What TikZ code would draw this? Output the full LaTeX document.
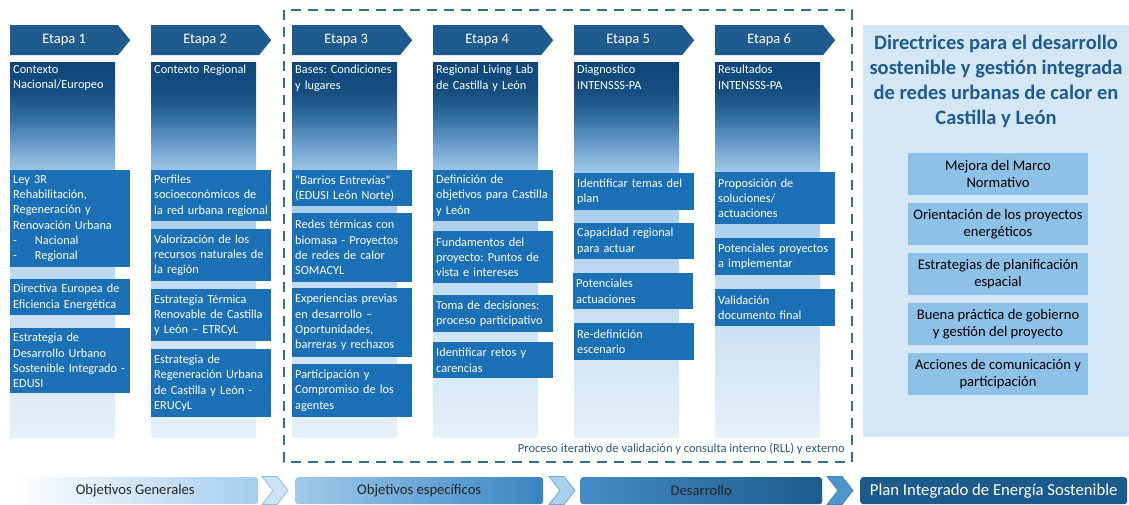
\documentclass[tikz,border=0pt]{standalone}
\usepackage{fontspec}
\setmainfont{Carlito}
\usetikzlibrary{shapes.symbols,positioning}
\hyphenpenalty=10000
\exhyphenpenalty=10000
\frenchspacing

\definecolor{etapablue}{HTML}{1F5B8E}
\definecolor{itemblue}{HTML}{1C70B5}
\definecolor{panelblue}{HTML}{D4E7F6}
\definecolor{goalblue}{HTML}{8DC1E7}
\definecolor{titleblue}{HTML}{1F5B8E}
\definecolor{frameblue}{HTML}{336E9A}
\definecolor{procblue}{HTML}{2B5A80}
\definecolor{planblue}{HTML}{1D5B8C}
\definecolor{fadeA}{HTML}{E6F1FA}
\definecolor{fadeB}{HTML}{C2DCF1}
\definecolor{fadeC}{HTML}{9DC6E8}
\definecolor{fadeD}{HTML}{6A9ECB}
\definecolor{fadeE}{HTML}{2F6A9C}
\definecolor{fadeF}{HTML}{174F81}
\definecolor{fadeG}{HTML}{0E467A}
\pgfdeclareverticalshading{colfade}{100bp}{color(0bp)=(fadeA); color(25bp)=(fadeA);
  color(45bp)=(fadeB); color(60.6bp)=(fadeC); color(64bp)=(fadeD); color(68bp)=(fadeE);
  color(71bp)=(fadeF); color(75bp)=(fadeG); color(100bp)=(fadeG)}

\tikzset{
  etapa/.style={signal, signal to=east, signal pointer angle=102, fill=etapablue, text=white,
    minimum width=120pt, minimum height=30pt, inner sep=0pt, anchor=north west,
    font=\fontsize{14.5}{17}\selectfont},
  colbody/.style={shading=colfade, minimum width=105pt, minimum height=375pt, inner sep=0pt, anchor=north west},
  head/.style={anchor=north west, text width=116pt, align=left, inner sep=3pt, text=white,
    font=\fontsize{12.3}{15.3}\selectfont},
  item/.style={fill=itemblue, text=white, anchor=north west, text width=114pt, inner xsep=3pt,
    inner ysep=0pt, align=left, font=\fontsize{12.3}{15.3}\selectfont},
  goal/.style={fill=goalblue, minimum width=180pt, minimum height=42pt, inner sep=0pt, align=center,
    font=\fontsize{14.6}{16.7}\selectfont},
  bar/.style={anchor=north west, minimum height=27pt, inner sep=0pt, rounded corners=3pt,
    text=black!85, font=\fontsize{14.6}{17}\selectfont},
  chev/.style={signal, signal to=east, signal from=west, signal pointer angle=104,
    minimum width=26pt, minimum height=28pt, inner sep=0pt, line width=0.8pt}
}

\begin{document}
\begin{tikzpicture}[x=1pt,y=-1pt]
  \useasboundingbox (0,0) rectangle (1129,505);

  \node[etapa] (s1) at (10,25) {Etapa 1};
  \node[etapa] (s2) at (151,25) {Etapa 2};
  \node[etapa] (s3) at (292,25) {Etapa 3};
  \node[etapa] (s4) at (433,25) {Etapa 4};
  \node[etapa] (s5) at (574,25) {Etapa 5};
  \node[etapa] (s6) at (715,25) {Etapa 6};

  \node[colbody] (c1) at (10,62) {};
  \node[colbody] (c2) at (151,62) {};
  \node[colbody] (c3) at (292,62) {};
  \node[colbody] (c4) at (433,62) {};
  \node[colbody] (c5) at (574,62) {};
  \node[colbody] (c6) at (715,62) {};

  \node[head] (h1) at (c1.north west) {Contexto\\Nacional/Europeo};
  \node[head] (h2) at (c2.north west) {Contexto Regional};
  \node[head] (h3) at (c3.north west) {Bases: Condiciones\\y lugares};
  \node[head] (h4) at (c4.north west) {Regional Living Lab\\de Castilla y León};
  \node[head] (h5) at (c5.north west) {Diagnostico\\INTENSSS-PA};
  \node[head] (h6) at (c6.north west) {Resultados\\INTENSSS-PA};

  \node[item, minimum height=97pt] (a1) at (10,170) {Ley 3R\\Rehabilitación,\\Regeneración y\\Renovación Urbana\\-\hspace{18pt}Nacional\\-\hspace{18pt}Regional};
  \node[item, minimum height=36pt] (a2) at (10,279) {Directiva Europea de\\Eficiencia Energética};
  \node[item, minimum height=65pt] (a3) at (10,328) {Estrategia de\\Desarrollo Urbano\\Sostenible Integrado -\\EDUSI};

  \node[item, minimum height=51pt] (b1) at (151,170) {Perfiles\\socioeconómicos de\\la red urbana regional};
  \node[item, minimum height=52pt] (b2) at (151,229) {Valorización de los\\recursos naturales de\\la región};
  \node[item, minimum height=52pt] (b3) at (151,289) {Estrategia Térmica\\Renovable de Castilla\\y León – ETRCyL};
  \node[item, minimum height=68pt] (b4) at (151,349) {Estrategia de\\Regeneración Urbana\\de Castilla y León -\\ERUCyL};

  \node[item, minimum height=36pt] (d1) at (292,170) {“Barrios Entrevías”\\(EDUSI León Norte)};
  \node[item, minimum height=69pt] (d2) at (292,213) {Redes térmicas con\\biomasa - Proyectos\\de redes de calor\\SOMACYL};
  \node[item, minimum height=69pt] (d3) at (292,288) {Experiencias previas\\en desarrollo –\\Oportunidades,\\barreras y rechazos};
  \node[item, minimum height=53pt] (d4) at (292,364) {Participación y\\Compromiso de los\\agentes};

  \node[item, minimum height=51pt] (e1) at (433,170) {Definición de\\objetivos para Castilla\\y León};
  \node[item, minimum height=52pt] (e2) at (433,231) {Fundamentos del\\proyecto: Puntos de\\vista e intereses};
  \node[item, minimum height=37pt] (e3) at (433,295) {Toma de decisiones:\\proceso participativo};
  \node[item, minimum height=36pt] (e4) at (433,342) {Identificar retos y\\carencias};

  \node[item, minimum height=37pt] (f1) at (574,173) {Identificar temas del\\plan};
  \node[item, minimum height=36pt] (f2) at (574,223) {Capacidad regional\\para actuar};
  \node[item, minimum height=36pt] (f3) at (573,273) {Potenciales\\actuaciones};
  \node[item, minimum height=37pt] (f4) at (574,323) {Re-definición\\escenario};

  \node[item, minimum height=52pt] (g1) at (715,172) {Proposición de\\soluciones/\\actuaciones};
  \node[item, minimum height=37pt] (g2) at (715,238) {Potenciales proyectos\\a implementar};
  \node[item, minimum height=37pt] (g3) at (715,289) {Validación\\documento final};

  \draw[frameblue, line width=2pt, dash pattern=on 10pt off 7pt] (284,10) rectangle (852,462);
  \node[text=procblue, anchor=east, inner sep=0pt, font=\fontsize{12.5}{15}\selectfont] (proc) at (845,449)
    {Proceso iterativo de validación y consulta interno (RLL) y externo};

  \node[fill=panelblue, anchor=north west, minimum width=266pt, minimum height=412pt, inner sep=0pt] (dir) at (863,25) {};
  \node[anchor=north, inner sep=0pt, align=center, text=titleblue, font=\fontsize{20.5}{25}\bfseries\selectfont] (tit) at (996,35)
    {Directrices para el desarrollo\\sostenible y gestión integrada\\de redes urbanas de calor en\\Castilla y León};
  \node[goal] (m1) at (998,174) {Mejora del Marco\\Normativo};
  \node[goal] (m2) at (998,224) {Orientación de los proyectos\\energéticos};
  \node[goal] (m3) at (998,274) {Estrategias de planificación\\espacial};
  \node[goal] (m4) at (998,324) {Buena práctica de gobierno\\y gestión del proyecto};
  \node[goal] (m5) at (998,374) {Acciones de comunicación y\\participación};

  \node[bar, minimum width=246pt, left color=white, right color=goalblue!80] (og) at (12,477) {Objetivos Generales};
  \node[chev, fill=goalblue!45, draw=goalblue] (v1) at (275,490.5) {};
  \node[bar, minimum width=248pt, left color=goalblue!85, right color=itemblue!75!goalblue] (oe) at (295,477) {Objetivos específicos};
  \node[chev, fill=goalblue!75, draw=goalblue!70!itemblue] (v2) at (562,490.5) {};
  \node[bar, minimum width=242pt, left color=itemblue!65!goalblue, right color=planblue] (des) at (580,477) {Desarrollo};
  \node[chev, fill=itemblue!55!goalblue, draw=itemblue!70!goalblue] (v3) at (840,490.5) {};
  \node[bar, minimum width=267pt, fill=planblue, text=white, font=\fontsize{16.7}{19}\selectfont] (plan) at (860,477) {Plan Integrado de Energía Sostenible};
\end{tikzpicture}
\end{document}
